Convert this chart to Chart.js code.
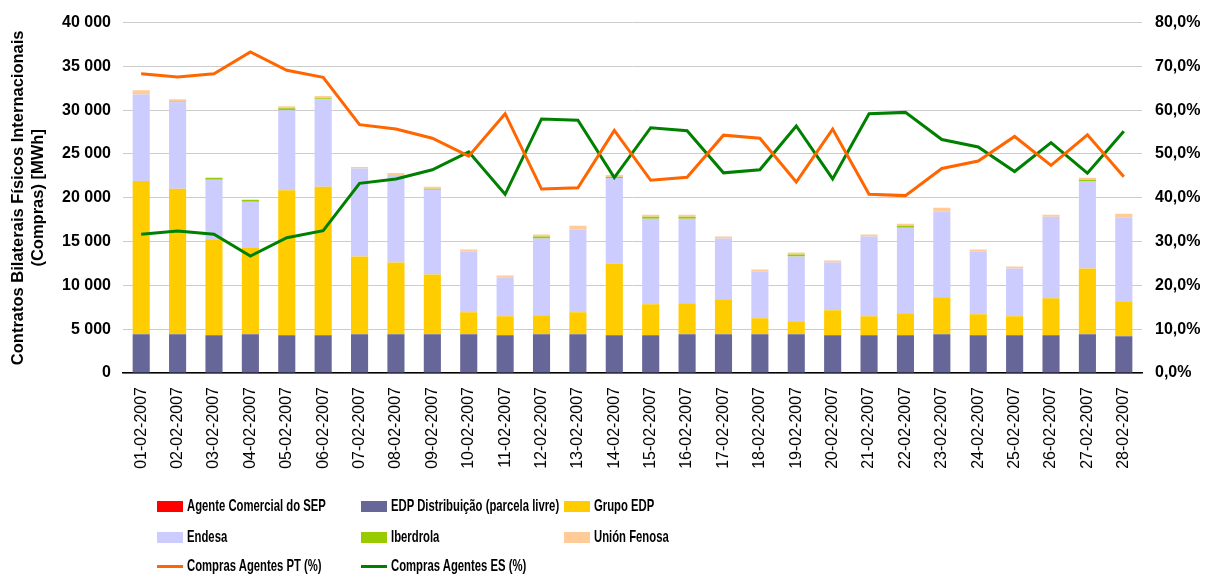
<!DOCTYPE html>
<html>
<head>
<meta charset="utf-8">
<script src="https://cdn.jsdelivr.net/npm/chart.js@4"></script>
<style>
  body { margin: 0; background: #fff; font-family: "Liberation Sans", Arial, sans-serif; }
  #wrap { position: relative; width: 1205px; height: 577px; }
  #box { position: absolute; left: 0; top: 0; width: 1205px; height: 480px; }
  #legend { position: absolute; left: 0; top: 0; width: 1205px; height: 577px; pointer-events: none; }
  .item { position: absolute; height: 20px; display: flex; align-items: center; }
  .sw { width: 26px; margin-right: 4px; flex: none; }
  .txt { display: inline-block; font-weight: bold; font-size: 17px; color: #000; white-space: nowrap; transform: scaleX(0.665); transform-origin: left center; }
</style>
</head>
<body>
<div id="wrap">
  <div id="box"><canvas id="grafico"></canvas></div>
  <div id="legend"></div>
</div>
<script>
// datos (MWh y %)
const dias = ['01-02-2007','02-02-2007','03-02-2007','04-02-2007','05-02-2007','06-02-2007','07-02-2007',
  '08-02-2007','09-02-2007','10-02-2007','11-02-2007','12-02-2007','13-02-2007','14-02-2007',
  '15-02-2007','16-02-2007','17-02-2007','18-02-2007','19-02-2007','20-02-2007','21-02-2007',
  '22-02-2007','23-02-2007','24-02-2007','25-02-2007','26-02-2007','27-02-2007','28-02-2007'];

const agenteSEP = [0,0,0,0,0,0,0,0,0,0,0,0,0,0,0,0,0,0,0,0,0,0,0,0,0,0,0,0];
const edpDistrib = [4430,4430,4320,4430,4320,4320,4430,4430,4430,4430,4320,4430,4430,4320,
  4320,4430,4430,4430,4430,4320,4320,4320,4430,4320,4320,4320,4430,4200];
const grupoEDP = [17500,16590,10870,9850,16550,16930,8870,8180,6820,2500,2160,2160,2500,8180,
  3520,3520,3980,1820,1480,2840,2160,2500,4210,2380,2160,4200,7500,3980];
const endesa = [9850,9880,6860,5270,9130,10000,10040,10000,9660,6930,4430,8750,9430,9770,
  9770,9660,6930,5340,7390,5450,9090,9770,9770,7160,5450,9320,10000,9550];
const iberdrola = [0,100,230,230,230,110,0,0,110,0,0,230,0,120,
  230,230,0,0,220,0,0,230,0,0,0,0,120,0];
const unionFenosa = [490,250,0,0,220,270,190,230,230,230,230,230,460,220,
  230,230,230,230,230,230,230,230,450,230,230,230,230,450];

const comprasPT = [68.3,67.6,68.3,73.3,69.1,67.5,56.7,55.7,53.6,49.5,59.2,42.0,42.3,55.4,
  44.0,44.7,54.3,53.6,43.6,55.7,40.8,40.5,46.7,48.4,54.0,47.4,54.4,44.8];
const comprasES = [31.7,32.4,31.7,26.7,30.9,32.5,43.3,44.3,46.4,50.5,40.8,58.0,57.7,44.6,
  56.0,55.3,45.7,46.4,56.4,44.3,59.2,59.5,53.3,51.6,46.0,52.6,45.6,55.2];

const fuente = "'Liberation Sans', Arial, sans-serif";

function barra(label, data, color) {
  return { type: 'bar', label: label, data: data, backgroundColor: color, borderWidth: 0,
    stack: 's', yAxisID: 'y', order: 2, barPercentage: 0.47, categoryPercentage: 1 };
}
function linea(label, data, color) {
  return { type: 'line', label: label, data: data, borderColor: color, backgroundColor: color,
    borderWidth: 3, pointRadius: 0, tension: 0, yAxisID: 'y1', order: 1 };
}

const chart = new Chart(document.getElementById('grafico'), {
  data: {
    labels: dias,
    datasets: [
      barra('Agente Comercial do SEP', agenteSEP, '#FF0000'),
      barra('EDP Distribuição (parcela livre)', edpDistrib, '#666699'),
      barra('Grupo EDP', grupoEDP, '#FFCC00'),
      barra('Endesa', endesa, '#CCCCFF'),
      barra('Iberdrola', iberdrola, '#99CC00'),
      barra('Unión Fenosa', unionFenosa, '#FFCC99'),
      linea('Compras Agentes PT (%)', comprasPT, '#FF6600'),
      linea('Compras Agentes ES (%)', comprasES, '#008000')
    ]
  },
  options: {
    responsive: true,
    maintainAspectRatio: false,
    animation: false,
    layout: { padding: { top: 12, left: 0, right: 0, bottom: 0 } },
    plugins: { legend: { display: false }, tooltip: { enabled: false } },
    scales: {
      x: {
        stacked: true,
        grid: { display: false },
        border: { display: true, color: '#000', width: 1.5 },
        ticks: { color: '#000', font: { family: fuente, size: 16 }, minRotation: 90, maxRotation: 90, padding: 6, autoSkip: false },
        afterFit: s => { s.height = 107; }
      },
      y: {
        stacked: true,
        position: 'left',
        min: 0, max: 40000,
        border: { display: false },
        grid: { color: '#cccccc', lineWidth: 1, drawTicks: false },
        ticks: {
          stepSize: 5000, color: '#000', padding: 12,
          font: { family: fuente, size: 16, weight: 'bold' },
          callback: v => v.toString().replace(/\B(?=(\d{3})+(?!\d))/g, ' ')
        },
        title: {
          display: true,
          text: ['Contratos Bilaterais Físicos Internacionais', '(Compras) [MWh]'],
          color: '#000', font: { family: fuente, size: 16.5, weight: 'bold', lineHeight: 1.25 },
          padding: { top: 8, bottom: 0 }
        },
        afterFit: s => { s.width = 123; }
      },
      y1: {
        position: 'right',
        min: 0, max: 80,
        border: { display: false },
        grid: { display: false, drawTicks: false },
        ticks: {
          stepSize: 10, color: '#000', padding: 13,
          font: { family: fuente, size: 16, weight: 'bold' },
          callback: v => v.toFixed(1).replace('.', ',') + '%'
        },
        afterFit: s => { s.width = 63; }
      }
    }
  }
});

// leyenda en 3 columnas como en el original
const colX = [157, 361, 564];
const filaY = [506, 537, 566];
const leyenda = document.getElementById('legend');
chart.data.datasets.forEach((ds, i) => {
  const it = document.createElement('div');
  it.className = 'item';
  it.style.left = colX[i % 3] + 'px';
  it.style.top = (filaY[Math.floor(i / 3)] - 10) + 'px';
  const sw = document.createElement('div');
  sw.className = 'sw';
  if (ds.type === 'line') {
    sw.style.height = '3px';
    sw.style.background = ds.borderColor;
  } else {
    sw.style.height = '11px';
    sw.style.background = ds.backgroundColor;
  }
  const tx = document.createElement('span');
  tx.className = 'txt';
  tx.textContent = ds.label;
  it.appendChild(sw);
  it.appendChild(tx);
  leyenda.appendChild(it);
});
</script>
</body>
</html>
